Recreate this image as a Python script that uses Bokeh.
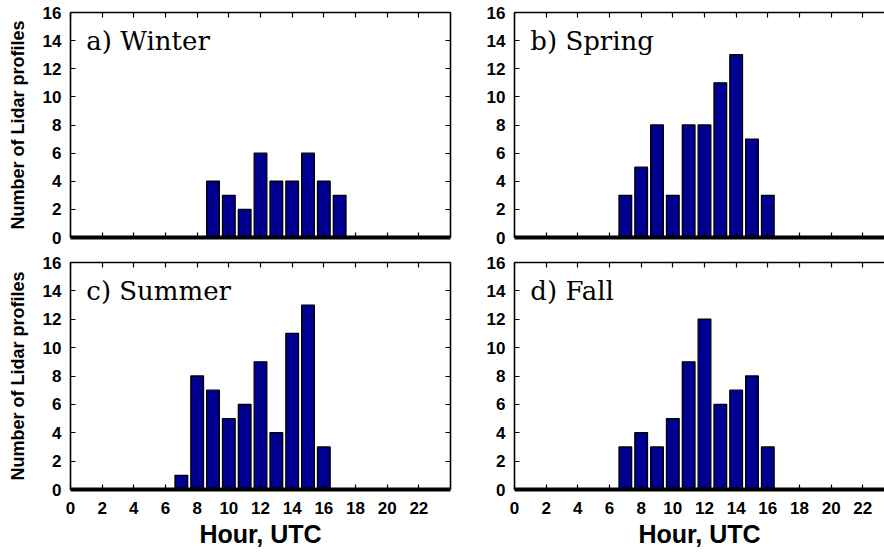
from bokeh.plotting import figure
from bokeh.layouts import column, row
from bokeh.models import LinearAxis, Range1d, FixedTicker, Label
from bokeh.embed import file_html
from bokeh.resources import INLINE

# ---- data ----
winter_hours = [9, 10, 11, 12, 13, 14, 15, 16, 17]
winter_counts = [4, 3, 2, 6, 4, 4, 6, 4, 3]
spring_hours = [7, 8, 9, 10, 11, 12, 13, 14, 15, 16]
spring_counts = [3, 5, 8, 3, 8, 8, 11, 13, 7, 3]
summer_hours = [7, 8, 9, 10, 11, 12, 13, 14, 15, 16]
summer_counts = [1, 8, 7, 5, 6, 9, 4, 11, 13, 3]
fall_hours = [7, 8, 9, 10, 11, 12, 13, 14, 15, 16]
fall_counts = [3, 4, 3, 5, 9, 12, 6, 7, 8, 3]

panel_titles = ["a) Winter", "b) Spring", "c) Summer", "d) Fall"]
x_ticks = list(range(0, 23, 2))
y_ticks = list(range(0, 17, 2))
y_label = "Number of Lidar profiles"
x_label = "Hour, UTC"

BAR_COLOR = "#000090"
TICK_FONT = "Liberation Sans"


def style_axis(ax, show_labels, width=1.5):
    ax.major_tick_in = 5
    ax.major_tick_out = 0
    ax.minor_tick_line_color = None
    ax.axis_line_width = width
    ax.axis_line_color = "black"
    ax.major_tick_line_width = 1.2
    ax.major_tick_line_color = "black"
    if show_labels:
        ax.major_label_text_font = TICK_FONT
        ax.major_label_text_font_style = "bold"
        ax.major_label_text_font_size = "17px"
        ax.major_label_text_color = "black"
    else:
        ax.major_label_text_font_size = "0px"
        ax.major_label_standoff = 0


def make_panel(hours, counts, title, left_col, bottom_row):
    xmax = 24 if left_col else 23.37
    fw = 380 if left_col else 370
    fh = 227 if bottom_row else 225
    p = figure(
        output_backend="svg", toolbar_location=None,
        frame_width=fw, frame_height=fh,
        x_range=Range1d(0, xmax), y_range=Range1d(0, 16),
        x_axis_location=None, y_axis_location=None,
        min_border_left=70 if left_col else 58,
        min_border_right=6 if left_col else 0,
        min_border_top=12,
        min_border_bottom=64 if bottom_row else 13,
        background_fill_color="white", border_fill_color="white",
    )
    p.outline_line_color = None
    p.xgrid.visible = False
    p.ygrid.visible = False

    p.vbar(x=hours, top=counts, width=0.8, bottom=0,
           fill_color=BAR_COLOR, line_color="black", line_width=1.3)

    # bottom axis (thick baseline)
    xb = LinearAxis(ticker=FixedTicker(ticks=x_ticks))
    style_axis(xb, bottom_row, width=4)
    if bottom_row:
        xb.major_label_standoff = 12
        xb.axis_label = x_label
        xb.axis_label_text_font = TICK_FONT
        xb.axis_label_text_font_style = "bold"
        xb.axis_label_text_font_size = "25px"
        xb.axis_label_standoff = 3
        xb.axis_label_text_color = "black"
    p.add_layout(xb, "below")

    # top axis (ticks only)
    xt = LinearAxis(ticker=FixedTicker(ticks=x_ticks))
    style_axis(xt, False, width=1.6)
    p.add_layout(xt, "above")

    # left axis
    yl = LinearAxis(ticker=FixedTicker(ticks=y_ticks))
    style_axis(yl, True, width=1.6)
    yl.major_label_standoff = 9
    if left_col:
        yl.axis_label = y_label
        yl.axis_label_text_font = TICK_FONT
        yl.axis_label_text_font_style = "bold"
        yl.axis_label_text_font_size = "18px"
        yl.axis_label_standoff = 12
        yl.axis_label_text_color = "black"
    p.add_layout(yl, "left")

    # right axis (ticks only) for the left column
    if left_col:
        yr = LinearAxis(ticker=FixedTicker(ticks=y_ticks))
        style_axis(yr, False, width=1.6)
        p.add_layout(yr, "right")

    p.add_layout(Label(x=1.0, y=14.0, text=title,
                       text_font="DejaVu Serif", text_font_size="26px",
                       text_color="black", text_baseline="alphabetic"))
    return p


pa = make_panel(winter_hours, winter_counts, panel_titles[0], True, False)
pb = make_panel(spring_hours, spring_counts, panel_titles[1], False, False)
pc = make_panel(summer_hours, summer_counts, panel_titles[2], True, True)
pd = make_panel(fall_hours, fall_counts, panel_titles[3], False, True)

layout = column(row(pa, pb, spacing=0), row(pc, pd, spacing=0), spacing=0)

open("out.html", "w").write(file_html(layout, INLINE))
